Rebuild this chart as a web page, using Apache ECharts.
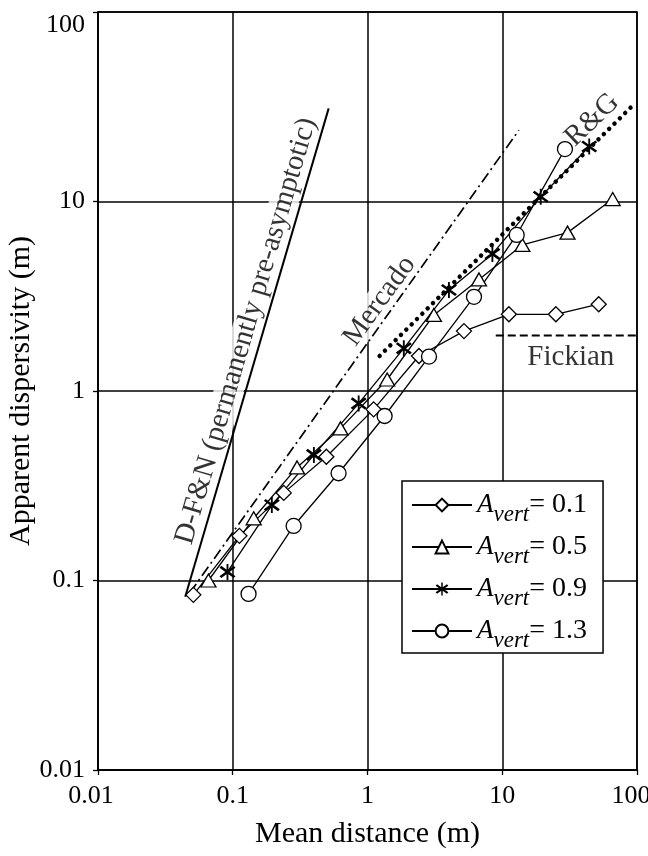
<!DOCTYPE html>
<html><head><meta charset="utf-8">
<script src="https://cdn.jsdelivr.net/npm/echarts@6/dist/echarts.min.js"></script>
<style>html,body{margin:0;padding:0;background:#fff}#c{width:648px;height:856px}</style>
</head><body><div id="c"></div>
<script>
const xTickLabels = ['0.01','0.1','1','10','100'];
const yTickLabels = ['0.01','0.1','1','10','100'];
const avertLevels = ['0.1','0.5','0.9','1.3'];

const avert01 = [[0.051,0.084],[0.112,0.172],[0.239,0.29],[0.495,0.45],[1.11,0.80],[2.41,1.53],[5.2,2.07],[11.2,2.54],[25,2.54],[52,2.87]];
const avert05 = [[0.066,0.1],[0.143,0.213],[0.30,0.395],[0.63,0.635],[1.40,1.15],[3.11,2.52],[6.72,3.88],[14.1,5.9],[30.5,6.85],[66,10.3]];
const avert09 = [[0.0914,0.111],[0.195,0.25],[0.40,0.46],[0.86,0.86],[1.86,1.68],[4.02,3.41],[8.45,5.29],[19.3,10.6],[44.2,19.5]];
const avert13 = [[0.131,0.085],[0.283,0.194],[0.61,0.368],[1.34,0.738],[2.86,1.52],[6.17,3.14],[12.8,6.66],[29.2,18.9]];

const dfnLine = [[0.0444,0.082],[0.515,31.0]];
const mercadoLine = [[0.048,0.086],[13.3,23.8]];
const rgLine = [[1.23,1.53],[96.7,33]];
const fickianLine = [[8.95,1.96],[100,1.96]];

const annotationTexts = ['D-F&N (permanently pre-asymptotic)','Mercado','R&G','Fickian'];
const annotationAnchors = [[0.1255,2.07],[1.228,2.985],[46.5,26.9],[32.3,1.51]];
const annotationAngles = [73.7,54,44,0];

const FONT = '"Liberation Serif","Times New Roman",serif';
const ASTERISK = 'path://M9.0,0L11.0,0L11.0,20L9.0,20Z M1.36,15.27L16.68,2.41L18.64,4.73L3.32,17.59Z M3.32,2.41L18.64,15.27L16.68,17.59L1.36,4.73Z';

const chart = echarts.init(document.getElementById('c'), null, {renderer:'canvas', devicePixelRatio:1});

function dataSeries(idx, data, symbol, size, filled){
  return {
    name: 'A_vert = ' + avertLevels[idx],
    type: 'line',
    data: data,
    symbol: symbol,
    symbolSize: size,
    showSymbol: true,
    z: 3,
    lineStyle: {color:'#000', width:1.3},
    itemStyle: filled ? {color:'#000', borderWidth:0} : {color:'#fff', borderColor:'#000', borderWidth:1.3},
    emphasis: {disabled:true},
    silent: true
  };
}
function refLine(data, type, width, cap){
  return {
    type:'line', data:data, symbol:'none', z:2, silent:true,
    lineStyle:{color:'#000', width:width, type:type, cap: cap || 'butt'},
    emphasis:{disabled:true}
  };
}

const annData = annotationTexts.map((t,i)=>({
  value: annotationAnchors[i],
  label: {
    show:true, formatter: t, rotate: annotationAngles[i],
    position:'inside', align:'center', verticalAlign:'middle',
    fontFamily: FONT, fontSize: 29, color:'#000',
    backgroundColor: i===3 ? 'transparent' : '#fff', padding:[0,2]
  }
}));

const axisCommon = {
  type:'log', logBase:10, min:0.01, max:100,
  axisLine:{show:true, lineStyle:{color:'#000', width:1.5}},
  axisTick:{show:true, inside:false, length:5, lineStyle:{color:'#000', width:1.3}},
  splitLine:{show:true, lineStyle:{color:'#000', width:1.5}},
  minorTick:{show:false}, minorSplitLine:{show:false},
  nameMoveOverlap:false,
  nameTextStyle:{fontFamily:FONT, fontSize:30, color:'#000'}
};

chart.setOption({
  animation:false,
  backgroundColor:'#fff',
  grid:{left:98, right:11, top:12, bottom:86, containLabel:false, outerBoundsMode:'none',
        show:true, borderColor:'#000', borderWidth:1.5, backgroundColor:'transparent'},
  xAxis: Object.assign({}, axisCommon, {
    name:'Mean distance (m)', nameLocation:'middle', nameGap:49,
    axisLabel:{fontFamily:FONT, fontSize:26, color:'#000', margin:13,
      formatter: v => {
        const i = Math.round(Math.log10(v))+2;
        if (i===0) return '{l|' + xTickLabels[i] + '}';
        if (i===4) return '{r|' + xTickLabels[i] + '}';
        return xTickLabels[i];
      },
      rich:{
        l:{fontFamily:FONT, fontSize:26, color:'#000', padding:[0,14,0,0]},
        r:{fontFamily:FONT, fontSize:26, color:'#000', padding:[0,12,0,0]}
      }
    }
  }),
  yAxis: Object.assign({}, axisCommon, {
    name:'Apparent dispersivity (m)', nameLocation:'middle', nameGap:62,
    axisLabel:{fontFamily:FONT, fontSize:26, color:'#000', margin:13, lineHeight:26,
      formatter: v => { const i = Math.round(Math.log10(v))+2; return i===4 ? '\n'+yTickLabels[i] : yTickLabels[i]; }}
  }),
  legend:{
    left:402, top:481, orient:'vertical',
    data: avertLevels.map(l=>'A_vert = '+l),
    itemWidth:60, itemHeight:16, itemGap:7,
    padding:[10,16,1,9],
    backgroundColor:'#fff', borderColor:'#000', borderWidth:1.5, borderRadius:0,
    selectedMode:false,
    formatter: name => '{a|A}{s|vert}{t|= ' + name.split('= ')[1] + '}',
    textStyle:{
      fontFamily:FONT, color:'#000',
      rich:{
        a:{fontFamily:FONT, fontSize:27, fontStyle:'italic', lineHeight:42, color:'#000'},
        s:{fontFamily:FONT, fontSize:23, fontStyle:'italic', lineHeight:22, verticalAlign:'bottom', color:'#000'},
        t:{fontFamily:FONT, fontSize:28, lineHeight:42, color:'#000'}
      }
    }
  },
  series:[
    refLine(dfnLine, 'solid', 2),
    refLine(mercadoLine, [11,4,2,4], 1.7),
    refLine(rgLine, [0.01,7.5], 4.5, 'round'),
    refLine(fickianLine, [8,4], 2),
    dataSeries(0, avert01, 'diamond', 15, false),
    dataSeries(1, avert05, 'triangle', [15,13], false),
    dataSeries(2, avert09, ASTERISK, 16, true),
    dataSeries(3, avert13, 'circle', 15, false),
    {type:'scatter', data:annData, symbolSize:1, z:1, silent:true,
     itemStyle:{color:'rgba(0,0,0,0)'}, emphasis:{disabled:true}}
  ]
});
</script></body></html>
